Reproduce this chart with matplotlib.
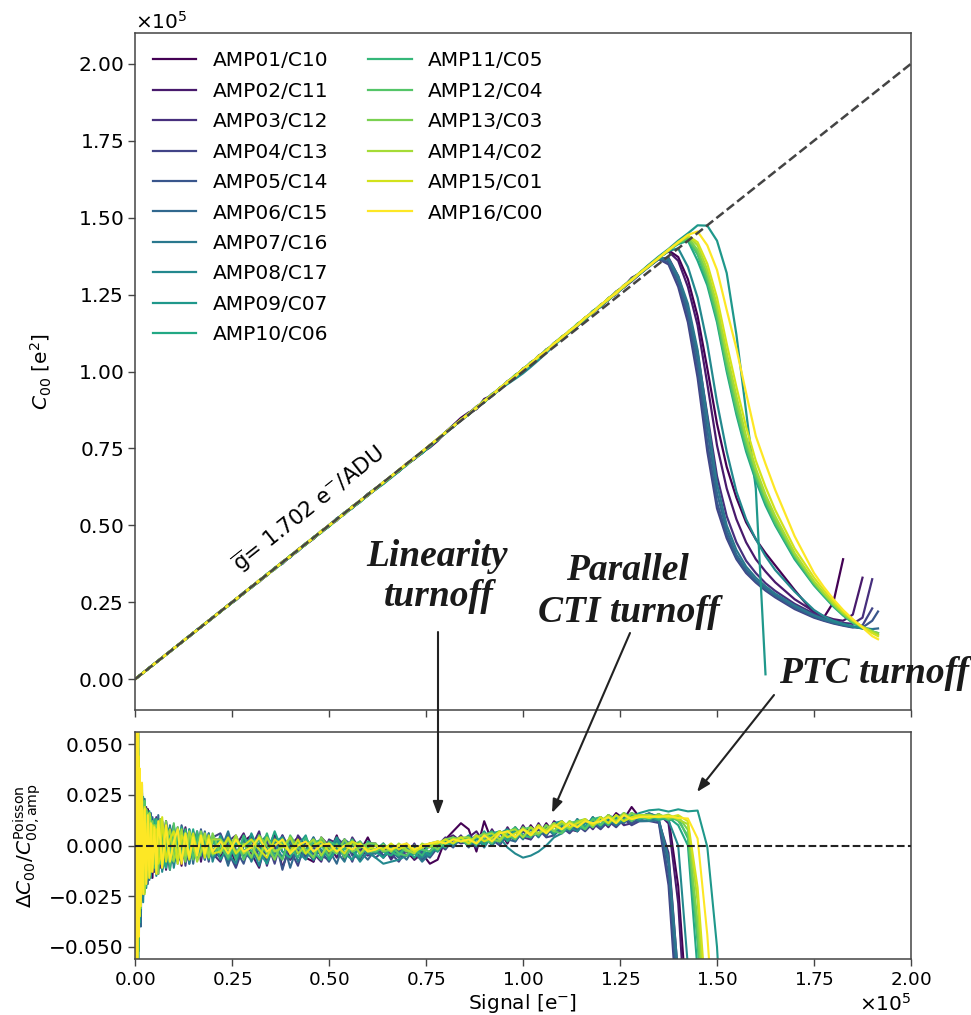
import numpy as np
import matplotlib
matplotlib.use("Agg")
import matplotlib.pyplot as plt
from matplotlib.ticker import ScalarFormatter
from matplotlib.lines import Line2D

# ---------------- data ----------------
amp_labels = ["AMP01/C10", "AMP02/C11", "AMP03/C12", "AMP04/C13", "AMP05/C14",
              "AMP06/C15", "AMP07/C16", "AMP08/C17", "AMP09/C07", "AMP10/C06",
              "AMP11/C05", "AMP12/C04", "AMP13/C03", "AMP14/C02", "AMP15/C01",
              "AMP16/C00"]

# signal grid (units of 1e5 e-) on which the residuals were read
signal_body = [0.002, 0.004, 0.006, 0.008, 0.010, 0.012, 0.015, 0.018, 0.021, 0.025,
               0.029, 0.033, 0.037, 0.041, 0.045, 0.050,
               0.055, 0.060, 0.065, 0.070, 0.080, 0.090, 0.100, 0.110, 0.120, 0.130,
               0.140, 0.150, 0.160, 0.170, 0.180, 0.190, 0.200,
               0.22, 0.24, 0.26, 0.28, 0.30, 0.32, 0.34, 0.36, 0.38, 0.40,
               0.42, 0.44, 0.46, 0.48, 0.50, 0.52, 0.54, 0.56, 0.58, 0.60,
               0.62, 0.64, 0.66, 0.68, 0.70, 0.72, 0.74, 0.76, 0.78, 0.80, 0.82, 0.84,
               0.86, 0.88, 0.90, 0.92, 0.94, 0.96, 0.98, 1.00, 1.02, 1.04, 1.06, 1.08,
               1.10, 1.12, 1.14, 1.16, 1.18, 1.20, 1.22, 1.24, 1.26, 1.28, 1.30]

# residual dC00/C00_Poisson (units of 1e-3) per amplifier on signal_body
resid_01 = [90, -70, 55, -30, 25, -38, 30, -12, 22, -20, 9, 18, -14, 4, -16, 12,
            11, -14, 3, -9, 12, -8, 6, 2, -10, 8, -4, 7, -7, 3, 5, -6, -2,
            -6, 4, -10, 2, 5, -7, -3, 6, -11, 0, 4, -6, -8, 3, -4, 5, -7, 1, -3, 4,
            -4, 1, -6, -1, -3, -7, -4, -9, -7, 3, 7, 11,
            8, -3, 12, 2, 7, 1, 9, 4, 10, 5, 11, 6, 12, 8, 7, 13, 10, 14, 11, 16, 13, 19, 14]
resid_02 = [-70, 95, -40, 33, -45, 10, -22, 26, -8, 17, -19, 7, 14, -11, 9, -13,
            -6, 13, -10, 7, -12, 4, 10, -8, -3, 9, -6, 2, 6, -8, 4, -5, 3,
            3, -9, 0, 6, -4, -11, 4, -2, 5, -7, -3, 2, -8, 4, 0, -6, 3, -4, -7, 1,
            1, -6, -2, -4, 0, -7, -3, 1, -2, 3, 5, 2,
            4, 7, 1, 8, 2, 9, 3, 10, 4, 11, 5, 12, 9, 7, 13, 8, 14, 9, 15, 10, 16, 12, 15]
resid_03 = [120, -55, 70, -48, 12, 34, -30, 22, -16, 4, 19, -13, -6, 15, -10, 8,
            14, -4, -11, 8, 1, -12, 9, -5, 7, -3, -8, 6, -2, 5, -7, 6, -4,
            -8, 2, 5, -4, -1, 7, -10, 3, -3, -7, 5, 0, -4, -8, 3, 1, -6, 4, -2, -5,
            -3, 0, -7, -2, -5, 1, -6, -3, 0, 4, 1, 5,
            0, 5, 3, 1, 6, 3, 8, 4, 3, 9, 5, 10, 6, 11, 7, 12, 8, 13, 9, 14, 10, 11, 13]
resid_04 = [-110, 62, -85, 40, -48, 15, 27, -27, 18, -20, 6, -17, 11, 13, -8, -12,
            -13, 7, 10, -8, 12, -6, -9, 4, 8, -10, 5, -3, 7, -6, 2, -8, 4,
            6, -3, -11, 0, 4, -6, 2, -9, 5, -2, -10, 3, -1, -5, -7, 4, 0, -8, 2, -3,
            -6, -3, -4, -8, -2, -4, -7, -3, 1, -2, 3, 1,
            2, -1, 5, 3, 0, 6, 2, 7, 3, 8, 4, 5, 9, 6, 10, 7, 11, 8, 12, 9, 13, 10, 12]
resid_05 = [85, -90, 30, -60, 41, -36, 8, 25, -25, 19, -4, -19, 13, -9, 14, -6,
            9, -12, 5, 12, -10, 8, -6, -7, 10, 2, -9, 6, -5, 8, -4, 3, -6,
            -4, 5, -2, -9, 3, 0, -7, 4, -12, 2, 0, -6, 4, -3, -8, -1, 3, -5, -6, 1,
            0, -5, -2, -6, 1, -4, -3, -6, -1, 2, -1, 4,
            -1, 4, 1, 6, 2, 4, 7, 4, 8, 5, 9, 6, 10, 7, 11, 8, 12, 9, 13, 10, 14, 11, 13]
resid_06 = [-95, 50, -65, 75, -20, 29, -40, 12, -16, 23, -15, 3, -12, 16, -4, 10,
            -4, 15, -9, -5, 9, -11, 7, 4, -8, 6, 3, -9, 5, -2, 7, -5, 1,
            2, -10, 4, -3, -7, 5, -1, -6, 3, -11, 1, -3, -7, 2, -2, -9, 3, 0, -3, -7,
            -2, -6, 0, -3, -7, -1, -4, 0, -3, 1, 4, 2,
            4, 0, 6, 1, 7, 3, 2, 8, 4, 9, 5, 10, 7, 11, 8, 12, 9, 13, 10, 14, 11, 15, 13]
resid_07 = [100, -66, 45, -80, 28, 10, -34, 20, -8, -22, 15, 12, -17, 5, 11, -10,
            7, -8, 13, -12, -6, 10, -3, 9, -7, -4, 8, -6, 3, 6, -7, 2, 4,
            -3, 7, -6, 3, -8, 1, 5, -4, 0, 3, -8, -2, 4, -6, 1, -3, -8, 2, 0, -4,
            -4, 0, -3, -6, -1, -3, -8, -4, 0, 2, 0, 3,
            0, 4, -1, 5, 1, 6, 7, 3, 8, 4, 9, 5, 10, 7, 11, 8, 12, 9, 13, 10, 12, 14, 12]
resid_08 = [-80, 65, -100, 35, -52, 24, -14, 30, -28, 6, -21, 16, 2, -16, 11, -7,
            -15, 4, 8, -13, 5, 9, -11, 1, -6, 7, -9, 4, -7, 2, -5, 6, -8,
            5, -4, -9, 4, 0, -10, 3, 1, -6, 4, -3, -7, 0, -2, -6, 2, -4, -2, -8, -3,
            -6, -9, -8, -7, -5, -4, -6, -3, -1, 0, 1, 3,
            0, 3, 5, 0, 4, -1, -4, -6, -5, -3, 0, 4, 6, 9, 7, 11, 9, 13, 11, 14, 12, 16, 14]
resid_09 = [70, -50, 88, -42, 18, -38, 25, -9, 24, -18, 14, -15, 9, -10, 4, 12,
            6, -10, -3, 12, -7, -2, 10, -9, 5, -6, 8, -3, -6, 7, 1, -7, 5,
            -7, 0, 3, -6, 6, -3, -9, 2, 4, -4, 0, 5, -7, 0, -3, 4, -4, -7, 1, -1,
            -3, -6, -1, -4, 0, -3, -2, -5, 1, 0, 4, 2,
            5, 1, 7, 2, 6, 8, 3, 9, 5, 10, 6, 11, 12, 8, 13, 9, 14, 10, 15, 13, 16, 14, 16]
resid_10 = [-130, 78, -47, 55, -25, 31, -18, -6, 21, -23, 10, -13, 17, -2, -12, 13,
            -10, 8, 12, -6, -11, 7, 3, -8, 9, -5, -2, 8, -6, 4, -5, 5, -3,
            4, -7, 1, -2, -6, 4, -4, 7, -3, -6, 2, -4, 1, 3, -7, -2, 1, -3, -6, 2,
            0, -3, -5, 0, -2, -6, -1, 0, -3, 3, 1, 4,
            2, 5, 0, 6, 7, 2, 8, 4, 9, 5, 10, 6, 11, 8, 12, 9, 13, 10, 14, 11, 13, 15, 13]
resid_11 = [75, -58, 62, -95, 36, -8, 29, -23, 4, 16, -20, 7, -12, 14, -9, 6,
            13, -7, -9, 5, 8, -12, 6, 3, -7, 8, -5, -4, 7, -5, 6, -2, 2,
            -2, 3, -7, 5, -3, -5, 6, -6, 1, 0, -6, 4, -3, -7, 2, 0, -2, 3, -5, -1,
            -2, 1, -3, -5, 0, -2, -5, 1, 2, -1, 4, 2,
            4, 0, 5, 7, 2, 6, 9, 5, 4, 10, 6, 11, 7, 12, 10, 8, 13, 14, 10, 15, 12, 16, 14]
resid_12 = [-88, 66, -72, 48, -15, 35, -31, 10, -19, 22, 9, -16, 15, -9, 3, -11,
            -7, 11, -5, 9, -3, -9, 11, -7, -4, 6, 4, -7, 2, 6, -6, 4, -5,
            0, -6, 4, -7, 2, 3, -4, -2, -7, 5, -1, -4, 3, 0, -5, 1, -6, 0, 2, -3,
            -3, -1, 0, -4, -5, 0, -2, -3, 1, 3, 1, 3,
            0, 5, 3, 1, 7, 5, 3, 8, 9, 5, 10, 7, 6, 11, 12, 8, 13, 10, 14, 11, 15, 12, 15]
resid_13 = [105, -75, 40, -52, 20, -32, 5, 24, -14, -10, 18, 13, -15, -6, 12, -9,
            10, -14, 7, -4, 12, -5, -8, 9, 2, -8, 6, -2, -5, 7, -3, -4, 6,
            -4, 3, -3, 1, -6, 5, 0, -7, 3, -3, 1, -2, -6, 4, -1, -4, 3, -3, -1, 1,
            1, -3, -2, 0, -3, -2, 0, 1, -2, 3, 4, 2,
            2, 4, 6, 3, 2, 7, 4, 9, 5, 6, 10, 7, 11, 8, 12, 13, 9, 14, 11, 15, 12, 16, 14]
resid_14 = [-78, 110, -43, 57, -35, 12, 28, -16, 17, -24, 6, -12, 16, 8, -11, 10,
            -11, 5, 13, -10, 2, 8, -7, -3, 8, -5, 7, 1, -8, -3, 6, -6, 3,
            3, -2, 5, -4, 0, -7, 4, -3, -1, 4, -4, 0, 3, -5, 1, -3, 0, 2, -4, 0,
            -2, 0, -3, 1, -2, -4, 1, -1, 2, 1, 3, 4,
            4, 1, 5, 6, 3, 7, 8, 4, 9, 6, 8, 11, 8, 12, 9, 13, 10, 12, 15, 12, 16, 13, 15]
resid_15 = [95, -62, 80, -27, 44, -35, 18, -20, -5, 19, -17, 11, -4, -13, 10, 7,
            8, -9, -6, 14, -8, 3, 7, -9, 5, 2, -7, 6, -3, 4, -6, 5, -4,
            -3, 4, -4, 0, 3, -2, -6, 3, 0, -3, 3, -4, 0, 2, -3, 0, -4, 2, 0, -2,
            0, -2, 1, -2, 0, -3, -1, 1, 1, 3, 1, 4,
            1, 5, 2, 4, 7, 4, 6, 8, 6, 10, 7, 9, 12, 9, 11, 13, 10, 14, 11, 15, 12, 14, 15]
resid_16 = [-140, 85, -120, 66, -45, 38, -30, 31, -24, 18, -19, 15, -16, 11, -13, 9,
            -14, 12, 3, -11, 10, -8, 2, 8, -9, 6, -6, 4, -5, 5, -4, 3, -3,
            2, -4, 3, -3, -1, 4, -3, 0, 3, -4, 0, 2, -3, 0, 1, -3, 0, -2, 1, -3,
            -2, 0, -2, 0, 1, -2, 0, 1, 2, 1, 3, 2,
            3, 1, 5, 2, 6, 7, 4, 8, 5, 9, 6, 10, 8, 11, 9, 12, 11, 12, 14, 11, 15, 13, 14]

# high-signal part: measured C00 (units of 1e5 e^2) on signal_tail
signal_tail = [1.325, 1.35, 1.375, 1.40, 1.425, 1.45, 1.475, 1.50, 1.525, 1.55,
               1.575, 1.60, 1.625, 1.65, 1.70, 1.75, 1.775, 1.80, 1.825, 1.85,
               1.875, 1.90, 1.915]
N = None
c00_01 = [1.346, 1.369, 1.394, 1.372, 1.30, 1.18, 1.01, 0.83, 0.69, 0.59, 0.51, 0.455,
          0.41, 0.37, 0.29, 0.215, 0.20, 0.25, 0.39, N, N, N, N]
c00_02 = [1.342, 1.371, 1.390, 1.36, 1.275, 1.15, 0.96, 0.76, 0.62, 0.52, 0.445, 0.39,
          0.35, 0.315, 0.26, 0.22, 0.205, 0.195, 0.19, 0.21, 0.33, N, N]
c00_03 = [1.344, 1.366, 1.370, 1.31, 1.205, 1.06, 0.86, 0.66, 0.53, 0.445, 0.385, 0.345,
          0.312, 0.287, 0.245, 0.213, 0.20, 0.19, 0.183, 0.18, 0.20, 0.325, N]
c00_04 = [1.341, 1.365, 1.348, 1.275, 1.16, 0.98, 0.74, 0.555, 0.458, 0.39, 0.345, 0.314,
          0.288, 0.266, 0.228, 0.20, 0.19, 0.181, 0.174, 0.168, 0.175, 0.23, N]
c00_05 = [1.343, 1.366, 1.355, 1.29, 1.18, 1.01, 0.77, 0.575, 0.468, 0.395, 0.35, 0.318,
          0.292, 0.27, 0.232, 0.203, 0.192, 0.183, 0.176, 0.17, 0.168, 0.19, 0.22]
c00_06 = [1.345, 1.368, 1.362, 1.30, 1.20, 1.04, 0.81, 0.605, 0.483, 0.405, 0.357, 0.322,
          0.296, 0.273, 0.235, 0.205, 0.193, 0.184, 0.176, 0.17, 0.165, 0.163, 0.165]
c00_07 = [1.341, 1.367, 1.367, 1.31, 1.22, 1.07, 0.85, 0.635, 0.50, 0.42, 0.366, 0.33,
          0.302, 0.278, 0.24, 0.208, 0.196, 0.186, 0.178, 0.171, 0.166, 0.162, N]
c00_08 = [1.346, 1.369, 1.392, 1.40, 1.34, 1.24, 1.09, 0.90, 0.74, 0.61, 0.52, 0.455,
          0.40, 0.355, 0.285, 0.225, 0.205, 0.19, 0.18, 0.172, 0.165, 0.162, N]
c00_09 = [1.348, 1.374, 1.398, 1.425, 1.449, 1.475, 1.474, 1.425, 1.32, 1.12, 0.87, 0.62,
          0.016, N, N, N, N, N, N, N, N, N, N]
c00_10 = [1.344, 1.367, 1.394, 1.414, 1.425, 1.36, 1.28, 1.16, 1.00, 0.86, 0.74, 0.645,
          0.565, 0.50, 0.39, 0.305, 0.27, 0.236, 0.207, 0.183, 0.166, 0.154, N]
c00_11 = [1.342, 1.370, 1.392, 1.419, 1.43, 1.38, 1.29, 1.17, 1.01, 0.87, 0.75, 0.655,
          0.575, 0.505, 0.395, 0.308, 0.273, 0.24, 0.21, 0.186, 0.168, 0.155, 0.15]
c00_12 = [1.345, 1.368, 1.395, 1.417, 1.432, 1.385, 1.30, 1.18, 1.02, 0.88, 0.76, 0.66,
          0.58, 0.51, 0.40, 0.31, 0.275, 0.24, 0.21, 0.185, 0.168, 0.155, N]
c00_13 = [1.343, 1.371, 1.393, 1.420, 1.436, 1.395, 1.315, 1.20, 1.04, 0.90, 0.775, 0.675,
          0.59, 0.52, 0.405, 0.315, 0.278, 0.243, 0.213, 0.188, 0.17, 0.156, 0.15]
c00_14 = [1.345, 1.369, 1.396, 1.418, 1.44, 1.41, 1.33, 1.215, 1.06, 0.92, 0.79, 0.685,
          0.60, 0.53, 0.41, 0.318, 0.28, 0.245, 0.215, 0.19, 0.17, 0.155, 0.145]
c00_15 = [1.343, 1.370, 1.394, 1.421, 1.442, 1.42, 1.35, 1.24, 1.09, 0.95, 0.82, 0.71,
          0.625, 0.55, 0.425, 0.33, 0.29, 0.252, 0.22, 0.193, 0.17, 0.15, 0.14]
c00_16 = [1.344, 1.369, 1.395, 1.419, 1.444, 1.455, 1.41, 1.33, 1.20, 1.075, 0.93, 0.79,
          0.70, 0.615, 0.465, 0.345, 0.30, 0.26, 0.225, 0.195, 0.168, 0.14, 0.13]

mean_gain_text = r"$\overline{\mathrm{g}}$= 1.702 e$^{-}$/ADU"

resid_all = [resid_01, resid_02, resid_03, resid_04, resid_05, resid_06, resid_07, resid_08,
             resid_09, resid_10, resid_11, resid_12, resid_13, resid_14, resid_15, resid_16]
c00_all = [c00_01, c00_02, c00_03, c00_04, c00_05, c00_06, c00_07, c00_08,
           c00_09, c00_10, c00_11, c00_12, c00_13, c00_14, c00_15, c00_16]

# ---------------- figure ----------------
FS = 14.5
fig = plt.figure(figsize=(9.71, 10.15), dpi=100)
ax1 = fig.add_axes([135 / 971, 1 - 710 / 1015, 776 / 971, 677 / 1015])
ax2 = fig.add_axes([135 / 971, 1 - 959 / 1015, 776 / 971, 227 / 1015], sharex=ax1)

colors = plt.cm.viridis(np.linspace(0, 1, len(amp_labels)))
sb = np.array(signal_body) * 1e5
st = np.array(signal_tail) * 1e5

handles = []
for i, lab in enumerate(amp_labels):
    r = np.array(resid_all[i], dtype=float) * 1e-3
    c_tail = np.array(c00_all[i], dtype=float) * 1e5
    x = np.concatenate([sb, st])
    c00 = np.concatenate([sb * (1 + r), c_tail])
    res = np.concatenate([r, c_tail / st - 1])
    h, = ax1.plot(x, c00, color=colors[i], lw=1.6, label=lab)
    handles.append(h)
    ax2.plot(x, res, color=colors[i], lw=1.5)

ax1.plot([0, 2e5], [0, 2e5], ls="--", color="#444444", lw=1.8, zorder=5)
ax2.axhline(0, ls="--", color="#222222", lw=1.5, zorder=5)

ax1.text(0.448e5, 0.552e5, mean_gain_text, fontsize=15.5, rotation=45,
         transform_rotates_text=True, rotation_mode="anchor",
         ha="center", va="center")

ax1.set_xlim(0, 2e5)
ax1.set_ylim(-0.1e5, 2.1e5)
ax1.set_xticks(np.arange(0, 2.01e5, 0.25e5))
ax1.set_yticks(np.arange(0, 2.01e5, 0.25e5))
ax2.set_ylim(-0.056, 0.056)
ax2.set_yticks([-0.05, -0.025, 0, 0.025, 0.05])

for ax in (ax1, ax2):
    f = ScalarFormatter(useMathText=True)
    f.set_powerlimits((0, 0))
    ax.xaxis.set_major_formatter(f)
    ax.tick_params(axis="y", labelsize=FS, length=5, width=1, color="#444444")
    ax.tick_params(axis="x", labelsize=13.2, length=5, width=1, color="#444444")
    for s in ax.spines.values():
        s.set_color("#444444")
        s.set_linewidth(1.1)
f = ScalarFormatter(useMathText=True)
f.set_powerlimits((0, 0))
ax1.yaxis.set_major_formatter(f)
ax1.yaxis.get_offset_text().set_fontsize(FS)
ax2.xaxis.get_offset_text().set_fontsize(FS)
plt.setp(ax1.get_xticklabels(), visible=False)
ax1.xaxis.get_offset_text().set_visible(False)

ax1.set_ylabel(r"$C_{00}$ [e$^2$]", fontsize=FS, labelpad=17)
ax2.set_ylabel(r"$\Delta C_{00}/C_{00,\mathrm{amp}}^{\mathrm{Poisson}}$", fontsize=FS)
ax2.set_xlabel(r"Signal [e$^{-}$]", fontsize=FS, labelpad=2)

blank = [Line2D([], [], color="none", label=" ") for _ in range(4)]
ax1.legend(handles=handles + blank, ncol=2, frameon=False, fontsize=FS,
           loc="upper left", labelspacing=0.57, handlelength=2.15)

# annotations (figure pixel coordinates, origin bottom-left)
H = 1015
afont = dict(family="Liberation Serif", weight="bold", style="italic", size=27,
             color="#1a1a1a")
def ftxt(x, y, s):
    fig.text(x / 971, 1 - y / H, s, ha="center", va="baseline", **afont)

ftxt(437, 566, "Linearity")
ftxt(439, 606, "turnoff")
ftxt(627, 580, "Parallel")
ftxt(629, 622, "CTI turnoff")
ftxt(874, 683, "PTC turnoff")

aprops = dict(arrowstyle="-|>,head_width=0.3,head_length=0.8", color="#222222",
              lw=1.5, shrinkA=0, shrinkB=0)
for (x0, y0, x1, y1) in [(438, 632, 438, 815), (630, 633, 552, 813), (774, 695, 697, 792)]:
    ax2.annotate("", xy=(x1, H - y1), xytext=(x0, H - y0),
                 xycoords="figure pixels", textcoords="figure pixels",
                 arrowprops=aprops, annotation_clip=False)

fig.savefig("out.png", dpi=100)
